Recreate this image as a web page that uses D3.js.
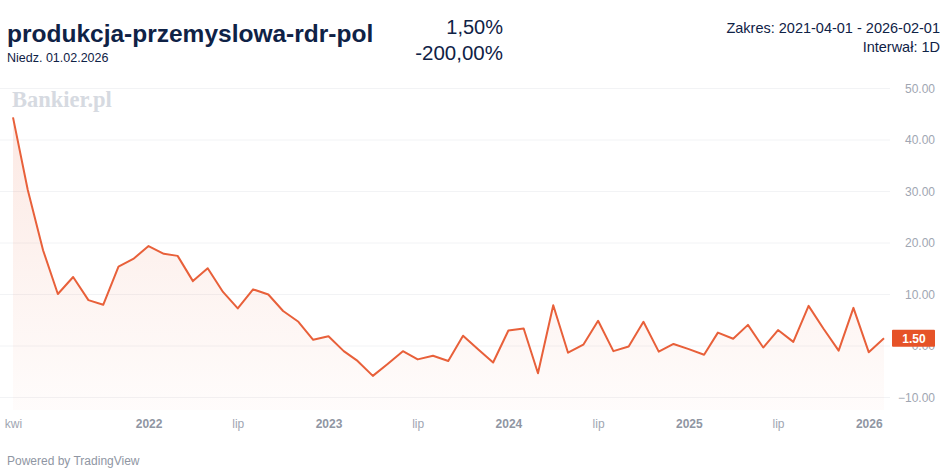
<!DOCTYPE html>
<html>
<head>
<meta charset="utf-8">
<script src="https://cdn.jsdelivr.net/npm/d3@7"></script>
<style>
  body { margin: 0; background: #fff; }
  svg { display: block; font-family: "Liberation Sans", Arial, sans-serif; }
</style>
</head>
<body>
<div id="root"></div>
<script>
// monthly values, first point 2021-04-01
const startMonth = "2021-04-01";
const values = [
  44.4, 30.3, 18.6, 10.1, 13.4, 8.9, 8.0, 15.4, 16.9,             // 2021
  19.4, 17.9, 17.5, 12.6, 15.1, 10.5, 7.3, 11.0, 10.0, 6.8, 4.7, 1.2, // 2022
  1.9, -1.0, -2.9, -5.8, -3.5, -1.0, -2.6, -1.9, -2.9, 2.0, -0.7, -3.2, // 2023
  3.0, 3.4, -5.3, 7.9, -1.3, 0.25, 4.9, -1.0, -0.1, 4.7, -1.1, 0.4,   // 2024
  -0.6, -1.7, 2.6, 1.4, 4.1, -0.3, 3.1, 0.8, 7.8, 3.4, -0.9, 7.4,     // 2025
  -1.2, 1.5                                                          // 2026
];
const xTicks = ["2021-04-01", "2022-01-01", "2022-07-01", "2023-01-01", "2023-07-01",
  "2024-01-01", "2024-07-01", "2025-01-01", "2025-07-01", "2026-01-01"];
const xTickLabels = ["kwi", "2022", "lip", "2023", "lip", "2024", "lip", "2025", "lip", "2026"];
const yTicks = [-10, 0, 10, 20, 30, 40, 50];

const width = 948, height = 468;
const parse = d3.timeParse("%Y-%m-%d");
const start = parse(startMonth);
const data = values.map((v, i) => ({ date: d3.timeMonth.offset(start, i), value: v }));
const last = data[data.length - 1];

const svg = d3.select("#root").append("svg")
  .attr("width", width)
  .attr("height", height);

const x = d3.scaleTime()
  .domain([data[0].date, last.date])
  .range([13, 884]);
const y = d3.scaleLinear()
  .domain([-10, 50])
  .range([397.5, 88.5]);

const paneRight = 890, paneBottom = 410;
const ink = "#0f2246";

// header
svg.append("text").attr("x", 7).attr("y", 42)
  .attr("font-size", 24.5).attr("font-weight", "bold").attr("fill", ink)
  .text("produkcja-przemyslowa-rdr-pol");
svg.append("text").attr("x", 7).attr("y", 62)
  .attr("font-size", 12.5).attr("fill", ink)
  .text("Niedz. 01.02.2026");
svg.append("text").attr("x", 503).attr("y", 34).attr("text-anchor", "end")
  .attr("font-size", 20).attr("fill", ink).text("1,50%");
svg.append("text").attr("x", 503).attr("y", 60).attr("text-anchor", "end")
  .attr("font-size", 20.5).attr("fill", ink).text("-200,00%");
svg.append("text").attr("x", 940).attr("y", 33).attr("text-anchor", "end")
  .attr("font-size", 14.5).attr("fill", ink).text("Zakres: 2021-04-01 - 2026-02-01");
svg.append("text").attr("x", 940).attr("y", 52).attr("text-anchor", "end")
  .attr("font-size", 14.5).attr("fill", ink).text("Interwał: 1D");

// grid
svg.append("g")
  .selectAll("line")
  .data(yTicks)
  .join("line")
  .attr("x1", 0).attr("x2", paneRight)
  .attr("y1", d => y(d)).attr("y2", d => y(d))
  .attr("stroke", "#f2f3f5").attr("stroke-width", 1);

// watermark
svg.append("text").attr("x", 12).attr("y", 107)
  .attr("font-family", "'Liberation Serif', 'DejaVu Serif', serif")
  .attr("font-size", 22.5).attr("font-weight", "bold").attr("fill", "#d6dae1")
  .text("Bankier.pl");

// area gradient
const grad = svg.append("defs").append("linearGradient")
  .attr("id", "fade").attr("x1", 0).attr("y1", 0).attr("x2", 0).attr("y2", 1);
grad.append("stop").attr("offset", "0%").attr("stop-color", "#e8613b").attr("stop-opacity", 0.14);
grad.append("stop").attr("offset", "100%").attr("stop-color", "#e8613b").attr("stop-opacity", 0.02);

svg.append("path")
  .datum(data)
  .attr("fill", "url(#fade)")
  .attr("d", d3.area().x(d => x(d.date)).y0(paneBottom).y1(d => y(d.value)));

svg.append("path")
  .datum(data)
  .attr("fill", "none")
  .attr("stroke", "#e8603a")
  .attr("stroke-width", 2)
  .attr("stroke-linejoin", "round")
  .attr("d", d3.line().x(d => x(d.date)).y(d => y(d.value)));

// right axis
const yAxis = d3.axisRight(y).tickValues(yTicks).tickSize(0).tickFormat(d3.format(".2f"));
const gy = svg.append("g").attr("transform", `translate(935,0)`).call(yAxis);
gy.select(".domain").remove();
gy.selectAll("text")
  .attr("x", 0).attr("text-anchor", "end")
  .attr("font-size", 12).attr("fill", "#a0a6b2")
  .attr("font-family", "'Liberation Sans', Arial, sans-serif");

// bottom axis
const xAxis = d3.axisBottom(x)
  .tickValues(xTicks.map(parse))
  .tickSize(0)
  .tickFormat((d, i) => xTickLabels[i]);
const gx = svg.append("g").attr("transform", `translate(0,${paneBottom})`).call(xAxis);
gx.select(".domain").remove();
gx.selectAll("text")
  .attr("y", 9)
  .attr("font-size", 12)
  .attr("font-family", "'Liberation Sans', Arial, sans-serif")
  .attr("fill", (d, i) => /^\d/.test(xTickLabels[i]) ? "#8f96a3" : "#a0a6b2")
  .attr("font-weight", (d, i) => /^\d/.test(xTickLabels[i]) ? "bold" : "normal");

// last value label
const ly = y(last.value);
svg.append("rect")
  .attr("x", 892).attr("y", ly - 8.5).attr("width", 43).attr("height", 17)
  .attr("rx", 1).attr("fill", "#e65328");
svg.append("text")
  .attr("x", 914).attr("y", ly + 4.5).attr("text-anchor", "middle")
  .attr("font-size", 12).attr("font-weight", "bold").attr("fill", "#fff")
  .text(d3.format(".2f")(last.value));

// footer
svg.append("text").attr("x", 7).attr("y", 465)
  .attr("font-size", 12).attr("fill", "#8f96a3")
  .text("Powered by TradingView");
</script>
</body>
</html>
